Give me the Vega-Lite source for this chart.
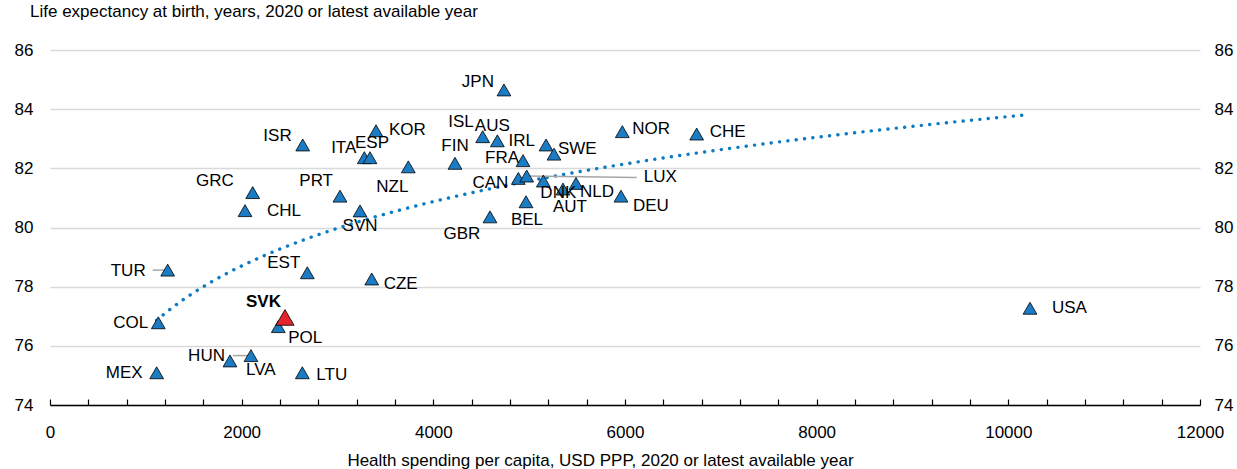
{
  "$schema": "https://vega.github.io/schema/vega-lite/v6.json",
  "width": 1150,
  "height": 355,
  "autosize": {"type": "none"},
  "padding": {"left": 50, "top": 50, "right": 37, "bottom": 64},
  "title": {"text": "Life expectancy at birth, years, 2020 or latest available year", "anchor": "start", "frame": "group", "dx": -20, "offset": 20, "fontSize": 17, "fontWeight": "normal", "font": "Liberation Sans", "color": "#000"},
  "config": {
    "view": {"stroke": null},
    "font": "Liberation Sans",
    "axis": {"labelFont": "Liberation Sans", "labelFontSize": 17, "labelColor": "#000", "titleFont": "Liberation Sans", "titleFontSize": 17, "titleFontWeight": "normal", "titleColor": "#000"},
    "text": {"font": "Liberation Sans", "fontSize": 17, "baseline": "middle", "color": "#000"}
  },
  "data": {"values": [
    {"code": "JPN", "spend": 4737, "le": 84.65},
    {"code": "ISL", "spend": 4515, "le": 83.07},
    {"code": "AUS", "spend": 4668, "le": 82.93},
    {"code": "IRL", "spend": 5176, "le": 82.79},
    {"code": "KOR", "spend": 3402, "le": 83.27},
    {"code": "ISR", "spend": 2637, "le": 82.79},
    {"code": "ITA", "spend": 3280, "le": 82.36},
    {"code": "ESP", "spend": 3339, "le": 82.36},
    {"code": "FIN", "spend": 4226, "le": 82.17},
    {"code": "FRA", "spend": 4936, "le": 82.26},
    {"code": "SWE", "spend": 5259, "le": 82.48},
    {"code": "NOR", "spend": 5972, "le": 83.24},
    {"code": "CHE", "spend": 6748, "le": 83.16},
    {"code": "GRC", "spend": 2115, "le": 81.18},
    {"code": "PRT", "spend": 3026, "le": 81.06},
    {"code": "NZL", "spend": 3739, "le": 82.05},
    {"code": "CHL", "spend": 2035, "le": 80.57},
    {"code": "SVN", "spend": 3235, "le": 80.56},
    {"code": "CAN", "spend": 4887, "le": 81.66},
    {"code": "LUX", "spend": 4974, "le": 81.74},
    {"code": "DNK", "spend": 5148, "le": 81.57},
    {"code": "NLD", "spend": 5489, "le": 81.49},
    {"code": "AUT", "spend": 5353, "le": 81.30},
    {"code": "DEU", "spend": 5958, "le": 81.06},
    {"code": "BEL", "spend": 4967, "le": 80.87},
    {"code": "GBR", "spend": 4591, "le": 80.36},
    {"code": "TUR", "spend": 1228, "le": 78.56},
    {"code": "EST", "spend": 2685, "le": 78.47},
    {"code": "CZE", "spend": 3357, "le": 78.26},
    {"code": "SVK", "spend": 2452, "le": 76.96},
    {"code": "POL", "spend": 2382, "le": 76.65},
    {"code": "COL", "spend": 1130, "le": 76.78},
    {"code": "HUN", "spend": 2097, "le": 75.67},
    {"code": "LVA", "spend": 1878, "le": 75.49},
    {"code": "MEX", "spend": 1113, "le": 75.09},
    {"code": "LTU", "spend": 2633, "le": 75.09},
    {"code": "USA", "spend": 10226, "le": 77.27}
  ]},
  "resolve": {"axis": {"y": "independent", "x": "independent"}},
  "layer": [
    {
      "mark": {"type": "point", "opacity": 0},
      "encoding": {
        "x": {"field": "spend", "type": "quantitative", "scale": {"domain": [0, 12000], "nice": false, "zero": false},
          "axis": {"orient": "bottom", "values": [0, 2000, 4000, 6000, 8000, 10000, 12000], "format": "d",
            "domainColor": "#000", "domainWidth": 1.5, "ticks": false,
            "labelPadding": 19, "labelFlush": false, "labelOverlap": false, "grid": false, "zindex": 1,
            "title": "Health spending per capita, USD PPP, 2020 or latest available year",
            "titleAnchor": "middle", "titleX": 550, "titleY": 60, "titleBaseline": "alphabetic"}},
        "y": {"field": "le", "type": "quantitative", "scale": {"domain": [74, 86], "nice": false, "zero": false},
          "axis": {"orient": "left", "values": [74, 76, 78, 80, 82, 84, 86], "grid": true, "gridColor": "#d9d9d9", "gridWidth": 1.5, "domain": false, "ticks": false, "labelPadding": 17, "title": null}}
      }
    },
    {
      "mark": {"type": "point", "opacity": 0},
      "encoding": {
        "x": {"field": "spend", "type": "quantitative",
          "axis": {"orient": "bottom", "values": [0, 400, 800, 1200, 1600, 2000, 2400, 2800, 3200, 3600, 4000, 4400, 4800, 5200, 5600, 6000, 6400, 6800, 7200, 7600, 8000, 8400, 8800, 9200, 9600, 10000, 10400, 10800, 11200, 11600, 12000],
            "labels": false, "domain": false, "grid": false, "ticks": true, "tickColor": "#000", "tickWidth": 1.2, "tickSize": -6, "title": null, "zindex": 1}},
        "y": {"field": "le", "type": "quantitative",
          "axis": {"orient": "right", "values": [74, 76, 78, 80, 82, 84, 86], "grid": false, "domain": false, "ticks": false, "labelPadding": 14, "labelAlign": "left", "title": null}}
      }
    },
    {
      "transform": [{"regression": "le", "on": "spend", "method": "log"}],
      "mark": {"type": "line", "strokeDash": [0.1, 8.3], "strokeCap": "round", "strokeWidth": 3.4, "color": "#0A7BC4"},
      "encoding": {
        "x": {"field": "spend", "type": "quantitative", "axis": null},
        "y": {"field": "le", "type": "quantitative", "axis": null}
      }
    },
    {
      "transform": [{"filter": "datum.code === 'LUX'"}],
      "mark": {"type": "rule", "color": "#a6a6a6", "strokeWidth": 1.5, "x2Offset": 110, "y2Offset": 1.5},
      "encoding": {
        "x": {"field": "spend", "type": "quantitative", "axis": null}, "x2": {"field": "spend"},
        "y": {"field": "le", "type": "quantitative", "axis": null}, "y2": {"field": "le"}
      }
    },
    {
      "transform": [{"filter": "datum.code === 'TUR'"}],
      "mark": {"type": "rule", "color": "#a6a6a6", "strokeWidth": 1.5, "xOffset": -15, "x2Offset": -3},
      "encoding": {
        "x": {"field": "spend", "type": "quantitative", "axis": null}, "x2": {"field": "spend"},
        "y": {"field": "le", "type": "quantitative", "axis": null}
      }
    },
    {
      "transform": [{"filter": "datum.code === 'HUN'"}],
      "mark": {"type": "rule", "color": "#a6a6a6", "strokeWidth": 1.5, "xOffset": -18, "x2Offset": -1},
      "encoding": {
        "x": {"field": "spend", "type": "quantitative", "axis": null}, "x2": {"field": "spend"},
        "y": {"field": "le", "type": "quantitative", "axis": null}
      }
    },
    {
      "transform": [{"filter": "datum.code !== 'SVK'"}],
      "mark": {"type": "point", "shape": "triangle-up", "size": 190, "filled": true, "fill": "#1B7BC3", "stroke": "#000", "strokeWidth": 0.8, "opacity": 1},
      "encoding": {
        "x": {"field": "spend", "type": "quantitative", "axis": null},
        "y": {"field": "le", "type": "quantitative", "axis": null}
      }
    },
    {
      "transform": [{"filter": "datum.code === 'SVK'"}],
      "mark": {"type": "point", "shape": "triangle-up", "size": 330, "filled": true, "fill": "#E3262B", "stroke": "#000", "strokeWidth": 0.8, "opacity": 1},
      "encoding": {
        "x": {"field": "spend", "type": "quantitative", "axis": null},
        "y": {"field": "le", "type": "quantitative", "axis": null}
      }
    },
    {
      "encoding": {
        "x": {"field": "spend", "type": "quantitative", "axis": null},
        "y": {"field": "le", "type": "quantitative", "axis": null},
        "text": {"field": "code"}
      },
      "layer": [
        {"transform": [{"filter": "datum.code === 'JPN'"}], "mark": {"type": "text", "align": "right", "dx": -10, "dy": -8}},
        {"transform": [{"filter": "datum.code === 'ISL'"}], "mark": {"type": "text", "align": "right", "dx": -9, "dy": -15}},
        {"transform": [{"filter": "datum.code === 'AUS'"}], "mark": {"type": "text", "align": "center", "dx": -5, "dy": -15}},
        {"transform": [{"filter": "datum.code === 'IRL'"}], "mark": {"type": "text", "align": "right", "dx": -11, "dy": -4}},
        {"transform": [{"filter": "datum.code === 'KOR'"}], "mark": {"type": "text", "align": "left", "dx": 13, "dy": -1}},
        {"transform": [{"filter": "datum.code === 'ISR'"}], "mark": {"type": "text", "align": "right", "dx": -11, "dy": -9}},
        {"transform": [{"filter": "datum.code === 'ITA'"}], "mark": {"type": "text", "align": "right", "dx": -8, "dy": -10}},
        {"transform": [{"filter": "datum.code === 'ESP'"}], "mark": {"type": "text", "align": "center", "dx": 2, "dy": -15}},
        {"transform": [{"filter": "datum.code === 'FIN'"}], "mark": {"type": "text", "align": "center", "dx": 0, "dy": -17}},
        {"transform": [{"filter": "datum.code === 'FRA'"}], "mark": {"type": "text", "align": "right", "dx": -4, "dy": -3}},
        {"transform": [{"filter": "datum.code === 'SWE'"}], "mark": {"type": "text", "align": "left", "dx": 4, "dy": -5}},
        {"transform": [{"filter": "datum.code === 'NOR'"}], "mark": {"type": "text", "align": "left", "dx": 10, "dy": -3}},
        {"transform": [{"filter": "datum.code === 'CHE'"}], "mark": {"type": "text", "align": "left", "dx": 13, "dy": -2}},
        {"transform": [{"filter": "datum.code === 'GRC'"}], "mark": {"type": "text", "align": "right", "dx": -19, "dy": -12}},
        {"transform": [{"filter": "datum.code === 'PRT'"}], "mark": {"type": "text", "align": "right", "dx": -7, "dy": -15}},
        {"transform": [{"filter": "datum.code === 'NZL'"}], "mark": {"type": "text", "align": "center", "dx": -16, "dy": 20}},
        {"transform": [{"filter": "datum.code === 'CHL'"}], "mark": {"type": "text", "align": "left", "dx": 22, "dy": 0}},
        {"transform": [{"filter": "datum.code === 'SVN'"}], "mark": {"type": "text", "align": "center", "dx": 0, "dy": 15}},
        {"transform": [{"filter": "datum.code === 'CAN'"}], "mark": {"type": "text", "align": "right", "dx": -10, "dy": 5}},
        {"transform": [{"filter": "datum.code === 'LUX'"}], "mark": {"type": "text", "align": "left", "dx": 117, "dy": 1}},
        {"transform": [{"filter": "datum.code === 'DNK'"}], "mark": {"type": "text", "align": "left", "dx": -3, "dy": 12}},
        {"transform": [{"filter": "datum.code === 'NLD'"}], "mark": {"type": "text", "align": "left", "dx": 4, "dy": 9}},
        {"transform": [{"filter": "datum.code === 'AUT'"}], "mark": {"type": "text", "align": "center", "dx": 7, "dy": 18}},
        {"transform": [{"filter": "datum.code === 'DEU'"}], "mark": {"type": "text", "align": "left", "dx": 12, "dy": 10}},
        {"transform": [{"filter": "datum.code === 'BEL'"}], "mark": {"type": "text", "align": "center", "dx": 1, "dy": 18}},
        {"transform": [{"filter": "datum.code === 'GBR'"}], "mark": {"type": "text", "align": "center", "dx": -28, "dy": 17}},
        {"transform": [{"filter": "datum.code === 'TUR'"}], "mark": {"type": "text", "align": "right", "dx": -22, "dy": 1}},
        {"transform": [{"filter": "datum.code === 'EST'"}], "mark": {"type": "text", "align": "right", "dx": -7, "dy": -10}},
        {"transform": [{"filter": "datum.code === 'CZE'"}], "mark": {"type": "text", "align": "left", "dx": 12, "dy": 5}},
        {"transform": [{"filter": "datum.code === 'SVK'"}], "mark": {"type": "text", "align": "right", "dx": -4, "dy": -15, "fontWeight": "bold"}},
        {"transform": [{"filter": "datum.code === 'POL'"}], "mark": {"type": "text", "align": "left", "dx": 10, "dy": 11}},
        {"transform": [{"filter": "datum.code === 'COL'"}], "mark": {"type": "text", "align": "right", "dx": -10, "dy": 0}},
        {"transform": [{"filter": "datum.code === 'HUN'"}], "mark": {"type": "text", "align": "right", "dx": -26, "dy": 0}},
        {"transform": [{"filter": "datum.code === 'LVA'"}], "mark": {"type": "text", "align": "left", "dx": 16, "dy": 9}},
        {"transform": [{"filter": "datum.code === 'MEX'"}], "mark": {"type": "text", "align": "right", "dx": -14, "dy": 0}},
        {"transform": [{"filter": "datum.code === 'LTU'"}], "mark": {"type": "text", "align": "left", "dx": 14, "dy": 2}},
        {"transform": [{"filter": "datum.code === 'USA'"}], "mark": {"type": "text", "align": "left", "dx": 22, "dy": 0}}
      ]
    }
  ]
}
